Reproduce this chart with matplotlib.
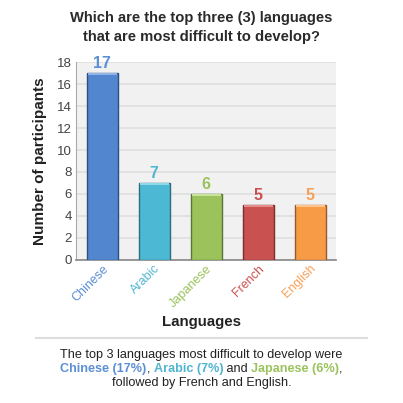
import matplotlib
matplotlib.use("Agg")
import matplotlib.pyplot as plt
from matplotlib.offsetbox import TextArea, HPacker, AnnotationBbox
from matplotlib.lines import Line2D

plt.rcParams['font.family'] = ['Liberation Sans', 'DejaVu Sans']

languages = ["Chinese", "Arabic", "Japanese", "French", "English"]
participants = [17, 7, 6, 5, 5]
bar_colors = ["#5287CF", "#4DB8D3", "#9CC25C", "#C95150", "#F89B47"]
edge_colors = ["#2E4F7E", "#2C6E80", "#5C7636", "#7A2F2F", "#96592A"]
label_colors = ["#5B8FD6", "#4FB5D0", "#9BC35D", "#C9504F", "#F5A05A"]
highlight_colors = ["#8FB5E8", "#8ED8EA", "#C8E39A", "#E58C8B", "#FFC48E"]
y_ticks = [0, 2, 4, 6, 8, 10, 12, 14, 16, 18]

fig = plt.figure(figsize=(4.03, 4.03), dpi=100)
ax = fig.add_axes([0.189, 0.355, 0.645, 0.491])
ax.set_facecolor("#F1F1F1")

x = list(range(len(languages)))
ax.bar(x, participants, width=0.6, color=bar_colors, edgecolor=edge_colors,
       linewidth=1.0, zorder=3)
# light strip along each bar top
ax.bar(x, [0.18] * len(x), bottom=[v - 0.22 for v in participants], width=0.56,
       color=highlight_colors, linewidth=0, zorder=4)

for xi, v, c in zip(x, participants, label_colors):
    ax.text(xi, v + 0.15, str(v), ha="center", va="bottom", color=c,
            fontsize=11.5, fontweight="bold", zorder=5)

ax.set_xlim(-0.5, len(languages) - 0.5)
ax.set_ylim(0, 18)
ax.set_yticks(y_ticks)
ax.set_yticklabels([str(t) for t in y_ticks], color="#444444", fontsize=9.5)
ax.yaxis.grid(True, color="#DEDEDE", linewidth=1.2, zorder=0)
ax.set_axisbelow(True)
ax.tick_params(axis="y", length=0, pad=3)
ax.tick_params(axis="x", length=0, pad=2)

ax.set_xticks(x)
ax.set_xticklabels(languages, rotation=45, ha="right", rotation_mode="anchor",
                   fontsize=9)
for lbl, c in zip(ax.get_xticklabels(), label_colors):
    lbl.set_color(c)

for side in ["top", "right"]:
    ax.spines[side].set_visible(False)
ax.spines["left"].set_color("#AAAAAA")
ax.spines["bottom"].set_color("#888888")
ax.spines["bottom"].set_linewidth(1.2)

ax.set_ylabel("Number of participants", fontsize=11, fontweight="bold",
              color="#222222", labelpad=7)
fig.text(0.5, 0.20, "Languages", ha="center", va="center", fontsize=10.8,
         fontweight="bold", color="#222222")

fig.text(0.5, 0.955, "Which are the top three (3) languages", ha="center",
         va="center", fontsize=10.6, fontweight="bold", color="#2A2A2A")
fig.text(0.5, 0.907, "that are most difficult to develop?", ha="center",
         va="center", fontsize=10.6, fontweight="bold", color="#2A2A2A")

# separator above the summary
fig.add_artist(Line2D([0.09, 0.91], [0.161, 0.161], transform=fig.transFigure,
                      color="#DDDDDD", linewidth=1.5))

body = "#222222"
fs = 9.1
fig.text(0.5, 0.119, "The top 3 languages most difficult to develop were",
         ha="center", va="center", fontsize=fs, color=body)

parts = [
    ("Chinese (17%)", label_colors[0], "bold"),
    (", ", body, "normal"),
    ("Arabic (7%)", label_colors[1], "bold"),
    (" and ", body, "normal"),
    ("Japanese (6%)", label_colors[2], "bold"),
    (",", body, "normal"),
]
boxes = [TextArea(t, textprops=dict(color=c, fontweight=w, fontsize=fs))
         for t, c, w in parts]
row = HPacker(children=boxes, align="baseline", pad=0, sep=0)
fig.add_artist(AnnotationBbox(row, (0.5, 0.084), xycoords="figure fraction",
                              frameon=False, box_alignment=(0.5, 0.5)))

fig.text(0.5, 0.049, "followed by French and English.", ha="center",
         va="center", fontsize=fs, color=body)

fig.savefig("out.png", dpi=100, facecolor="white")
